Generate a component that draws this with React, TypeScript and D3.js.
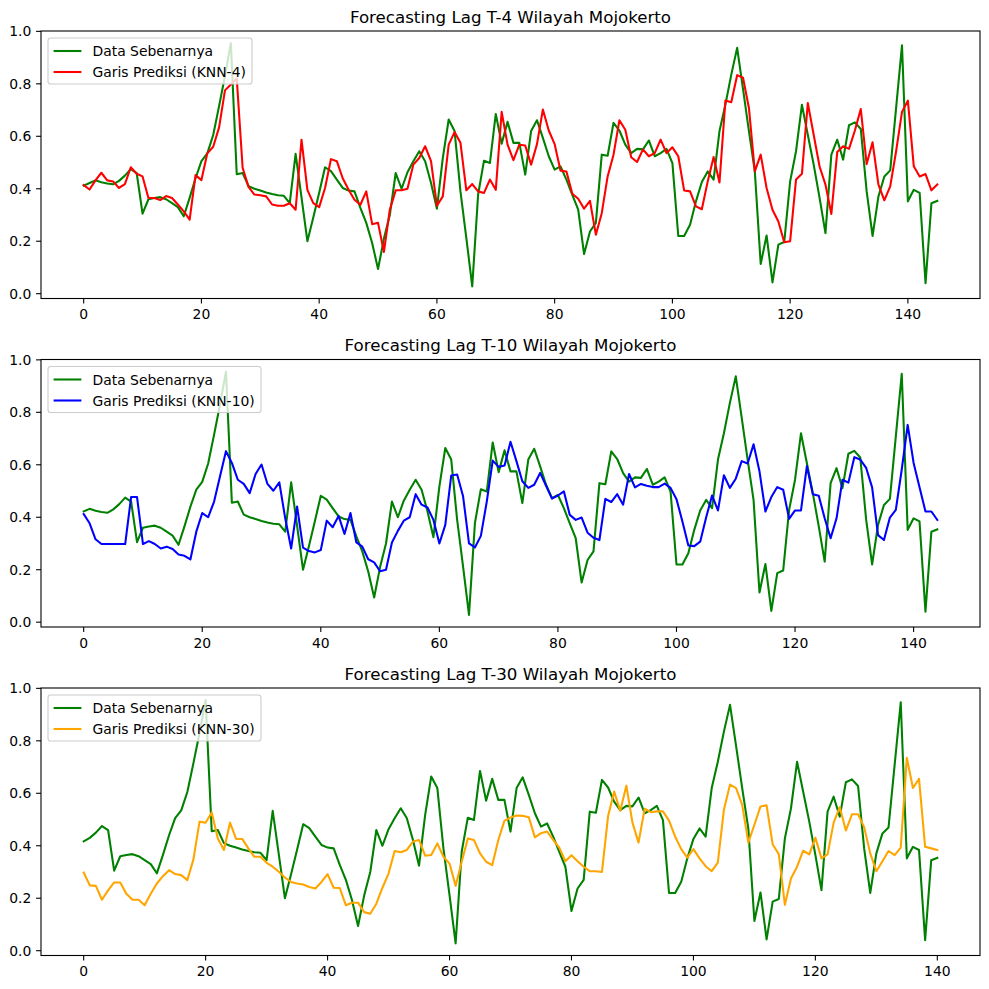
import React from "react";
import * as d3 from "d3";

// Data Sebenarnya (lag T-4 panel); the other panels start later in the same series
const actual = [
  0.412, 0.422, 0.432, 0.425, 0.42, 0.417, 0.43, 0.45, 0.475, 0.46,
  0.305, 0.36, 0.365, 0.368, 0.36, 0.345, 0.33, 0.295, 0.365, 0.44,
  0.505, 0.535, 0.605, 0.715, 0.83, 0.955, 0.455, 0.46, 0.41, 0.4,
  0.393, 0.386, 0.38, 0.375, 0.373, 0.345, 0.533, 0.367, 0.2, 0.29,
  0.385, 0.482, 0.467, 0.435, 0.403, 0.393, 0.39, 0.327, 0.27, 0.193,
  0.094, 0.21, 0.3, 0.46, 0.4, 0.463, 0.505, 0.543, 0.505, 0.422,
  0.324, 0.517, 0.664, 0.62, 0.39, 0.212, 0.028, 0.378, 0.507, 0.498,
  0.685, 0.572, 0.655, 0.575, 0.575, 0.454, 0.62, 0.661, 0.594, 0.524,
  0.473, 0.485, 0.435, 0.377, 0.32, 0.151, 0.237, 0.27, 0.53, 0.526,
  0.651, 0.622, 0.568, 0.536, 0.552, 0.55, 0.584, 0.524, 0.536, 0.552,
  0.498, 0.22, 0.22, 0.263, 0.352, 0.426, 0.466, 0.435, 0.62, 0.72,
  0.835, 0.937, 0.78, 0.62, 0.466, 0.113, 0.222, 0.043, 0.187, 0.197,
  0.428, 0.543, 0.72, 0.606, 0.492, 0.365, 0.231, 0.53, 0.587, 0.511,
  0.642, 0.653, 0.628, 0.39, 0.22, 0.371, 0.447, 0.47, 0.708, 0.947,
  0.352, 0.396, 0.384, 0.04, 0.345, 0.354,
];

const predKnn4 = [
  0.414, 0.397, 0.432, 0.461, 0.432, 0.428, 0.403, 0.418, 0.482, 0.457,
  0.447, 0.365, 0.365, 0.357, 0.372, 0.365, 0.34, 0.314, 0.282, 0.452,
  0.433, 0.535, 0.56, 0.634, 0.775, 0.797, 0.82, 0.48, 0.407, 0.378,
  0.375, 0.371, 0.34, 0.335, 0.335, 0.345, 0.32, 0.587, 0.396, 0.345,
  0.33, 0.403, 0.513, 0.505, 0.44, 0.396, 0.358, 0.339, 0.39, 0.265,
  0.27, 0.159, 0.32, 0.394, 0.394, 0.4, 0.492, 0.517, 0.562, 0.505,
  0.335, 0.371, 0.568, 0.616, 0.575, 0.394, 0.418, 0.39, 0.384, 0.435,
  0.396, 0.693, 0.568, 0.509, 0.568, 0.565, 0.492, 0.57, 0.702, 0.622,
  0.57, 0.469, 0.466, 0.381, 0.362, 0.324, 0.354, 0.225, 0.307, 0.447,
  0.53, 0.661, 0.625, 0.52, 0.502, 0.55, 0.524, 0.536, 0.587, 0.536,
  0.558, 0.524, 0.393, 0.39, 0.333, 0.322, 0.428, 0.521, 0.424, 0.736,
  0.73, 0.833, 0.823, 0.708, 0.466, 0.53, 0.403, 0.32, 0.275, 0.196,
  0.2, 0.435, 0.457, 0.727, 0.606, 0.485, 0.416, 0.304, 0.54, 0.562,
  0.552, 0.622, 0.704, 0.494, 0.577, 0.416, 0.356, 0.409, 0.543, 0.693,
  0.736, 0.486, 0.447, 0.456, 0.394, 0.416,
];

const predKnn10 = [
  0.412, 0.377, 0.316, 0.298, 0.298, 0.298, 0.298, 0.298, 0.477, 0.477,
  0.298, 0.309, 0.298, 0.281, 0.288, 0.279, 0.258, 0.253, 0.239, 0.345,
  0.416, 0.4, 0.46, 0.556, 0.652, 0.607, 0.543, 0.527, 0.492, 0.565,
  0.601, 0.527, 0.501, 0.533, 0.396, 0.281, 0.441, 0.284, 0.271, 0.266,
  0.275, 0.387, 0.362, 0.405, 0.336, 0.416, 0.304, 0.288, 0.24, 0.228,
  0.194, 0.2, 0.304, 0.348, 0.387, 0.4, 0.488, 0.448, 0.437, 0.39,
  0.3, 0.371, 0.559, 0.563, 0.48, 0.3, 0.285, 0.329, 0.46, 0.616,
  0.592, 0.597, 0.688, 0.614, 0.537, 0.512, 0.524, 0.569, 0.52, 0.471,
  0.483, 0.499, 0.409, 0.39, 0.399, 0.341, 0.322, 0.313, 0.47, 0.458,
  0.488, 0.448, 0.565, 0.514, 0.527, 0.52, 0.515, 0.515, 0.528, 0.512,
  0.469, 0.384, 0.292, 0.29, 0.307, 0.399, 0.483, 0.426, 0.56, 0.512,
  0.547, 0.614, 0.605, 0.678, 0.575, 0.422, 0.477, 0.515, 0.505, 0.394,
  0.426, 0.426, 0.595, 0.488, 0.482, 0.396, 0.32, 0.396, 0.543, 0.532,
  0.629, 0.62, 0.588, 0.514, 0.332, 0.313, 0.399, 0.428, 0.582, 0.752,
  0.607, 0.514, 0.422, 0.422, 0.39,
];

const predKnn30 = [
  0.298, 0.249, 0.247, 0.194, 0.23, 0.26, 0.26, 0.217, 0.194, 0.194,
  0.173, 0.217, 0.256, 0.284, 0.307, 0.292, 0.288, 0.269, 0.348, 0.492,
  0.488, 0.527, 0.428, 0.384, 0.488, 0.426, 0.426, 0.39, 0.358, 0.358,
  0.335, 0.32, 0.301, 0.279, 0.262, 0.256, 0.252, 0.243, 0.237, 0.262,
  0.292, 0.24, 0.239, 0.173, 0.183, 0.183, 0.147, 0.141, 0.179, 0.24,
  0.294, 0.38, 0.375, 0.384, 0.416, 0.422, 0.362, 0.365, 0.409, 0.358,
  0.332, 0.247, 0.339, 0.428, 0.422, 0.371, 0.339, 0.326, 0.422, 0.495,
  0.508, 0.515, 0.514, 0.509, 0.432, 0.448, 0.454, 0.422, 0.393, 0.341,
  0.364, 0.341, 0.32, 0.303, 0.303, 0.3, 0.512, 0.607, 0.533, 0.629,
  0.488, 0.412, 0.541, 0.528, 0.531, 0.531, 0.496, 0.435, 0.387, 0.355,
  0.387, 0.352, 0.322, 0.303, 0.336, 0.537, 0.633, 0.62, 0.556, 0.412,
  0.48, 0.55, 0.554, 0.405, 0.368, 0.175, 0.275, 0.32, 0.381, 0.367,
  0.431, 0.352, 0.367, 0.488, 0.547, 0.458, 0.52, 0.52, 0.471, 0.371,
  0.303, 0.341, 0.38, 0.364, 0.393, 0.735, 0.62, 0.655, 0.396, 0.39,
  0.384,
];

const lags = ["T-4", "T-10", "T-30"];
const actualOffsets = [1 - 1, 1, 5];
const predictions = [predKnn4, predKnn10, predKnn30];
const predLabels = ["Garis Prediksi (KNN-4)", "Garis Prediksi (KNN-10)", "Garis Prediksi (KNN-30)"];
const predColors = ["red", "blue", "orange"];
const xTicks = [0, 20, 40, 60, 80, 100, 120, 140];
const yTicks = [0, 0.2, 0.4, 0.6, 0.8, 1.0];

const W = 989;
const LEFT = 41;
const RIGHT = 980;
const TOPS = [31, 359.5, 688];
const PH = 267.5;
const FONT = "DejaVu Sans, sans-serif";
const legendWidths = [204, 213, 213];

function Panel({ idx }: { idx: number }) {
  const top = TOPS[idx];
  const bottom = top + PH;
  const pred = predictions[idx];
  const act = actual.slice(actualOffsets[idx], actualOffsets[idx] + pred.length);
  const n = pred.length;
  const x = d3.scaleLinear().domain([-0.05 * (n - 1), (n - 1) * 1.05]).range([LEFT, RIGHT]);
  const all = act.concat(pred);
  const [lo, hi] = d3.extent(all) as [number, number];
  const pad = (hi - lo) * 0.05;
  const y = d3.scaleLinear().domain([lo - pad, hi + pad]).range([bottom, top]);
  const line = d3.line<number>().x((_, i) => x(i)).y((d) => y(d));
  const lx = LEFT + 7;
  const ly = top + 7;
  return (
    <g>
      <text x={(LEFT + RIGHT) / 2} y={top - 8.3} textAnchor="middle" fontSize={16.67} fontFamily={FONT}>
        {`Forecasting Lag ${lags[idx]} Wilayah Mojokerto`}
      </text>
      <defs>
        <clipPath id={`clip${idx}`}>
          <rect x={LEFT} y={top} width={RIGHT - LEFT} height={PH} />
        </clipPath>
      </defs>
      <g clipPath={`url(#clip${idx})`}>
        <path d={line(act) || ""} fill="none" stroke="green" strokeWidth={2.08} strokeLinejoin="round" strokeLinecap="square" />
        <path d={line(pred) || ""} fill="none" stroke={predColors[idx]} strokeWidth={2.08} strokeLinejoin="round" strokeLinecap="square" />
      </g>
      <rect x={LEFT} y={top} width={RIGHT - LEFT} height={PH} fill="none" stroke="black" strokeWidth={1.1} />
      {xTicks.map((t) => (
        <g key={`x${t}`}>
          <line x1={x(t)} x2={x(t)} y1={bottom} y2={bottom + 4.9} stroke="black" strokeWidth={1.1} />
          <text x={x(t)} y={bottom + 20.5} textAnchor="middle" fontSize={13.9} fontFamily={FONT}>{t}</text>
        </g>
      ))}
      {yTicks.map((t) => (
        <g key={`y${t}`}>
          <line x1={LEFT - 4.9} x2={LEFT} y1={y(t)} y2={y(t)} stroke="black" strokeWidth={1.1} />
          <text x={LEFT - 9.7} y={y(t) + 5} textAnchor="end" fontSize={13.9} fontFamily={FONT}>{t.toFixed(1)}</text>
        </g>
      ))}
      <rect x={lx} y={ly} width={legendWidths[idx]} height={46} rx={2.8} fill="white" fillOpacity={0.8} stroke="#cccccc" strokeWidth={1.1} />
      <line x1={lx + 5.6} x2={lx + 33.4} y1={ly + 13} y2={ly + 13} stroke="green" strokeWidth={2.08} />
      <text x={lx + 44.5} y={ly + 18} fontSize={13.9} fontFamily={FONT}>Data Sebenarnya</text>
      <line x1={lx + 5.6} x2={lx + 33.4} y1={ly + 34} y2={ly + 34} stroke={predColors[idx]} strokeWidth={2.08} />
      <text x={lx + 44.5} y={ly + 39} fontSize={13.9} fontFamily={FONT}>{predLabels[idx]}</text>
    </g>
  );
}

export default function App() {
  return (
    <svg width={W} height={W} style={{ position: "absolute", left: 0, top: 0, background: "white" }}>
      <rect width={W} height={W} fill="white" />
      {[0, 1, 2].map((i) => (
        <Panel key={i} idx={i} />
      ))}
    </svg>
  );
}
